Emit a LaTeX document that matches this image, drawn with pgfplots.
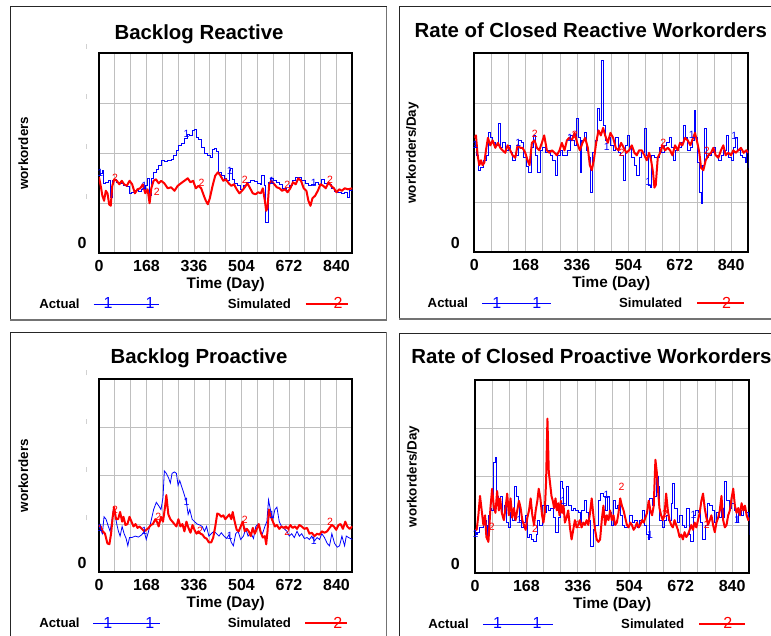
\documentclass[border=0pt]{standalone}
\usepackage{fontspec}
\setmainfont{Liberation Sans}
\usepackage{pgfplots}
\pgfplotsset{compat=1.18}
\newcommand{\mk}{\textcolor{black!18}{\rule{0.8pt}{5pt}}}
\pgfplotsset{
 vbase/.style={
  scale only axis,
  xmin=0, xmax=896, ymin=0, ymax=4,
  xtick={0,168,336,504,672,840},
  xticklabels={0,168,336,504,672,840},
  minor xtick={56,112,224,280,392,448,560,616,728,784},
  ytick={0,1,2,3,4},
  xmajorgrids, xminorgrids, ymajorgrids,
  major grid style={black!25, line width=0.8pt},
  minor grid style={black!25, line width=0.8pt},
  major tick length=0pt, minor tick length=0pt,
  tick style={draw=none},
  axis line style={line width=1.8pt},
  ticklabel style={font=\fontsize{16}{19}\selectfont\bfseries},
  xticklabel style={anchor=north, inner sep=0pt, yshift=-7pt},
  yticklabel style={anchor=base east, inner sep=0pt},
  xlabel={Time (Day)},
  xlabel style={at={(axis description cs:0.5,0)}, anchor=base, yshift=-35pt, inner sep=0pt, font=\fontsize{15.3}{18}\selectfont\bfseries},
  ylabel style={anchor=center, inner sep=0pt, font=\fontsize{13.4}{16}\selectfont\bfseries},
  title style={anchor=base, inner sep=0pt, font=\fontsize{20.4}{24}\selectfont\bfseries},
  legend columns=2,
  legend plot pos=right,
  legend cell align=left,
  legend style={draw=none, fill=none, inner sep=0pt, outer sep=0pt, anchor=west,
     font=\fontsize{13.2}{15}\selectfont\bfseries, nodes={inner sep=0pt}},
 },
 act/.style={blue, line width=0.8pt, const plot},
 actl/.style={blue, line width=0.8pt},
 sim/.style={red, line width=2pt, line join=round},
 m1/.style={forget plot, only marks, mark=text, text mark={1}, text mark as node=true, color=blue, text mark style={font=\fontsize{10.5}{10.5}\selectfont}},
 m2/.style={forget plot, only marks, mark=text, text mark={2}, text mark as node=true, color=red, text mark style={font=\fontsize{10.5}{10.5}\selectfont}},
}
\newcommand{\legact}[3]{\draw[blue,line width=0.8pt] (0pt,0pt)--(#1pt,0pt);
 \node[blue,inner sep=0pt,font=\fontsize{16}{16}\selectfont\mdseries] at (#2pt,0pt){1};
 \node[blue,inner sep=0pt,font=\fontsize{16}{16}\selectfont\mdseries] at (#3pt,0pt){1};}
\newcommand{\legsim}[2]{\draw[red,line width=2pt] (0pt,0pt)--(#1pt,0pt);
 \node[red,inner sep=0pt,font=\fontsize{16}{16}\selectfont\mdseries] at (#2pt,0pt){2};}
\begin{document}
\begin{tikzpicture}[x=1pt,y=1pt]
\useasboundingbox (0,0) rectangle (771,636);
\clip (0,0) rectangle (771,636);
\fill[white] (0,0) rectangle (771,636);
% panel frames
\draw[black!85, line width=1pt] (10,316) -- (10,629) -- (386.7,629);
\draw[black!55, line width=1.4pt] (386.7,629) -- (386.7,316) -- (10,316);
\draw[black!85, line width=1pt] (399,317) -- (399,629.3) -- (790,629.3);
\draw[black!55, line width=1.4pt] (399,317) -- (790,317);
\draw[black!85, line width=1pt] (10,-20) -- (10,303.7) -- (386.7,303.7);
\draw[black!55, line width=1.4pt] (386.7,303.7) -- (386.7,-20);
\draw[black!85, line width=1pt] (399.7,-20) -- (399.7,302.7) -- (790,302.7);

% ---------------- Backlog Reactive ----------------
\begin{axis}[vbase, at={(99pt,382.7pt)}, anchor=south west, width=253.3pt, height=200pt,
 title={Backlog Reactive}, title style={at={(axis description cs:0.3948,1)}, yshift=8pt},
 ylabel={workorders}, ylabel style={at={(axis description cs:-0.299,0.5)}},
 yticklabels={0,\mk,\mk,\mk,\mk}, yticklabel style={xshift=-12.3pt, yshift=4.3pt},
 legend style={at={(axis description cs:-0.2357,-0.2535)},
   /tikz/every odd column/.style={column sep=13.7pt},
   /tikz/every even column/.style={column sep=68.7pt}}]
\addplot[act, legend image code/.code={\legact{65}{10}{52}}] coordinates {
(0,1.56)(5.9,1.60)(10.7,1.65)(15.4,1.39)(21.3,1.42)(33.2,1.45)(41.5,1.12)(46.2,1.45)(53.3,1.48)(62.8,1.42)(74.7,1.40)(86.5,1.36)(98.4,1.33)(107.9,1.19)(116.1,1.22)(128,1.26)(139.9,1.24)(151.7,1.28)(163.6,1.35)(171.9,1.50)(179,1.15)(184.9,1.50)(193.2,1.62)(201.5,1.68)(211,1.75)(220.4,1.85)(231.1,1.83)(243,1.86)(254.8,1.87)(264.3,1.96)(273.8,2.05)(282.1,2.15)(291.6,2.20)(302.2,2.30)(311.7,2.38)(321.2,2.35)(329.5,2.45)(337.8,2.48)(344.9,2.32)(353.2,2.28)(362.7,2.12)(373.3,2.00)(382.8,1.95)(392.3,1.92)(401.8,2.07)(408.9,2.10)(416,2.03)(423.1,1.62)(432.6,1.55)(442.1,1.50)(451.5,1.45)(459.8,1.65)(465.8,1.70)(471.7,1.48)(480,1.40)(489.5,1.35)(499,1.28)(510.8,1.35)(522.7,1.42)(536.9,1.45)(548.7,1.44)(560.6,1.40)(570,1.38)(576,1.55)(584.3,1.35)(590.2,0.62)(596.1,0.62)(600.9,1.42)(608,1.50)(617.5,1.45)(627,1.42)(637.6,1.38)(649.5,1.30)(661.3,1.26)(673.2,1.35)(685,1.45)(694.5,1.52)(705.2,1.52)(717,1.45)(728.9,1.40)(740.7,1.36)(752.6,1.38)(764.4,1.42)(776.3,1.38)(788.2,1.48)(797.6,1.40)(809.5,1.38)(821.3,1.30)(833.2,1.24)(845,1.22)(856.9,1.20)(868.7,1.22)(878.2,1.12)(886.5,1.25)(896,1.28)};
\addlegendentry{Actual}
\addplot[sim, legend image code/.code={\legsim{42}{28}}] coordinates {
(0,1.52)(6,1.35)(12,1.15)(18,1.05)(24,1.25)(30,1.20)(36,0.98)(41.5,0.95)(47,1.35)(54.5,1.48)(63,1.45)(72,1.38)(80.6,1.45)(89,1.38)(98.4,1.35)(108,1.45)(117.3,1.38)(127,1.20)(136,1.28)(145.8,1.30)(155,1.38)(163.6,1.20)(172,1.28)(179,1.00)(185,1.30)(193,1.45)(201.5,1.48)(211,1.40)(220,1.45)(231,1.40)(243,1.30)(255,1.32)(267,1.25)(278.5,1.35)(290,1.40)(302,1.45)(314,1.50)(323.6,1.42)(333,1.45)(342.5,1.30)(352,1.35)(361.5,1.30)(371,1.15)(378,1.05)(385,0.98)(392,1.10)(401.8,1.35)(411,1.55)(420.7,1.62)(430,1.55)(439.7,1.45)(449,1.48)(458.7,1.40)(468,1.35)(477.6,1.38)(487,1.28)(496.6,1.20)(506,1.25)(515.6,1.32)(525,1.40)(534.5,1.30)(544,1.20)(553.5,1.18)(563,1.22)(572.4,1.20)(579.6,1.30)(586.7,1.05)(591.4,0.85)(596,0.90)(602,1.38)(610,1.45)(620,1.38)(629,1.32)(638.8,1.30)(648,1.25)(658,1.28)(667,1.22)(676.8,1.30)(686,1.42)(695.7,1.38)(705,1.50)(714.7,1.45)(724,1.30)(733.6,1.25)(740.7,1.05)(748,0.95)(755,1.10)(764.4,1.15)(774,1.25)(783.4,1.38)(793,1.35)(802,1.30)(812,1.42)(821,1.35)(831,1.30)(840,1.22)(850,1.28)(859,1.25)(869,1.30)(880.6,1.28)(896,1.30)};
\addlegendentry{Simulated}
\addplot[m1] coordinates {(5,1.6)(160,1.35)(310,2.38)(463,1.65)(611,1.45)(760,1.4)};
\addplot[m2] coordinates {(57,1.51)(204,1.22)(363,1.4)(516,1.47)(666,1.37)(817,1.47)};
\end{axis}

% ---------------- Rate of Closed Reactive ----------------
\begin{axis}[vbase, at={(474.3pt,383.7pt)}, anchor=south west, width=274pt, height=199pt,
 title={Rate of Closed Reactive Workorders}, title style={at={(axis description cs:0.4252,1)}, yshift=10pt},
 ylabel={workorders/Day}, ylabel style={at={(axis description cs:-0.2255,0.5)}},
 yticklabels={0,,,,}, yticklabel style={xshift=-14.3pt, yshift=4pt},
 legend style={at={(axis description cs:-0.170,-0.2563)},
   /tikz/every odd column/.style={column sep=14pt},
   /tikz/every even column/.style={column sep=67.3pt}}]
\addplot[act, legend image code/.code={\legact{69}{10}{50}}] coordinates {
(0,2.15)(5.4,1.95)(14.2,1.65)(19.6,1.70)(30.5,1.85)(38.1,1.95)(44.6,2.40)(52.3,2.30)(59.9,2.20)(68.6,2.15)(77.3,2.60)(84.9,2.10)(92.5,2.20)(101.2,2.05)(110,2.15)(117.6,2.00)(125.2,1.85)(133.9,1.95)(144.8,2.25)(152.4,2.20)(161.1,1.90)(169.8,1.72)(177.5,1.60)(186.2,2.10)(193.8,2.35)(201.4,1.95)(207.9,1.60)(215.6,2.05)(223.2,2.10)(231.9,2.00)(240.6,2.05)(248.2,1.95)(255.8,1.85)(264.6,1.55)(273.3,1.95)(280.9,2.05)(288.5,1.95)(297.2,1.95)(305.9,2.05)(313.5,2.35)(321.2,2.25)(327.7,2.15)(335.3,2.70)(340.8,2.30)(346.2,1.60)(351.7,2.25)(359.3,2.40)(365.8,2.05)(373.4,1.90)(380,1.20)(386.5,2.00)(395.2,2.25)(403.9,2.90)(410.4,2.65)(417,3.85)(423.5,2.55)(430,2.25)(438.7,2.30)(446.4,2.15)(455.1,2.05)(462.7,2.30)(471.4,2.00)(479,1.95)(486.6,1.45)(493.2,2.15)(500.8,2.35)(507.3,2.10)(515,1.90)(523.7,1.75)(531.3,1.55)(538.9,1.90)(547.6,2.00)(556.3,2.50)(563.9,1.95)(569.4,1.35)(574.8,1.30)(580.3,1.95)(587.9,1.90)(596.6,1.90)(604.2,2.10)(612.9,2.00)(621.6,2.15)(629.3,2.20)(636.9,2.30)(643.4,2.10)(651,1.85)(658.7,2.05)(667.4,2.10)(676.1,2.20)(683.7,2.55)(691.3,2.30)(697.9,2.05)(705.5,2.10)(713.1,2.25)(718.5,2.85)(724,2.30)(730.5,1.80)(736,1.20)(741.4,0.98)(746.8,1.75)(752.3,2.50)(758.8,1.90)(765.4,1.95)(774.1,2.00)(781.7,2.10)(789.3,1.95)(798,1.85)(806.7,1.95)(814.3,2.05)(823.1,2.35)(830.7,1.90)(839.4,1.85)(847,2.10)(854.6,2.30)(861.2,2.05)(868.8,1.95)(876.4,1.90)(885.1,1.80)(890.6,2.05)(896,1.70)};
\addlegendentry{Actual}
\addplot[sim, legend image code/.code={\legsim{46.6}{25}}] coordinates {
(0,2.30)(5.4,2.35)(10.9,1.95)(16.3,1.75)(21.8,1.85)(27.2,1.75)(32.7,1.80)(38.1,2.05)(44.6,2.30)(52.3,2.15)(59.9,2.25)(68.6,2.10)(77.3,2.20)(84.9,2.10)(92.5,2.05)(101.2,2.00)(108.9,2.15)(117.6,2.05)(125.2,1.95)(133.9,1.90)(141.5,2.15)(150.2,2.10)(157.9,2.10)(166.6,2.00)(174.2,1.85)(180.7,1.75)(188.3,2.20)(197.1,2.25)(204.7,2.10)(212.3,2.05)(221,2.20)(228.6,2.35)(237.3,2.05)(245,2.00)(253.7,2.05)(262.4,2.00)(270,1.95)(278.7,2.05)(286.3,2.20)(295,2.05)(302.7,2.25)(310.3,2.30)(319,2.25)(327.7,2.40)(336.4,2.20)(345.1,2.05)(353.8,2.20)(362.5,2.30)(371.2,2.10)(377.8,1.75)(384.3,1.65)(390.8,1.85)(398.5,2.20)(406.1,2.45)(413.7,2.35)(421.3,2.50)(427.9,2.35)(436.6,2.20)(445.3,2.40)(454,2.30)(462.7,2.10)(471.4,2.05)(480.1,2.20)(488.8,2.10)(497.5,2.00)(506.2,2.05)(515,2.15)(523.7,2.00)(531.3,1.95)(538.9,2.05)(547.6,2.05)(556.3,1.95)(563.9,1.85)(571.6,2.00)(578.1,1.85)(584.6,1.60)(589,1.30)(593.3,1.35)(599.9,1.90)(607.5,2.00)(615.1,2.15)(623.8,2.05)(632.5,2.10)(640.2,2.05)(647.8,1.95)(656.5,2.15)(665.2,2.05)(672.8,2.20)(680.4,2.15)(689.1,2.30)(697.9,2.25)(706.6,2.15)(715.3,2.30)(721.8,2.40)(729.4,2.20)(736,2.00)(741.4,1.70)(749,1.65)(756.7,1.85)(765.4,1.95)(774.1,2.00)(781.7,2.10)(789.3,1.95)(798,1.90)(806.7,2.05)(814.3,2.15)(822,1.95)(830.7,2.00)(839.4,1.95)(847,2.05)(854.6,2.00)(863.3,2.05)(872,2.10)(880.7,2.00)(889.5,2.05)(896,2.00)};
\addlegendentry{Simulated}
\addplot[m1] coordinates {(3,2.15)(144,2.2)(313,2.3)(433,2.12)(569,1.42)(711,2.35)(850,2.34)};
\addplot[m2] coordinates {(198,2.39)(329,2.36)(482,1.99)(618,2.2)(760,2.04)};
\end{axis}

% ---------------- Backlog Proactive ----------------
\begin{axis}[vbase, at={(99pt,63.7pt)}, anchor=south west, width=253.3pt, height=193pt,
 title={Backlog Proactive}, title style={at={(axis description cs:0.3948,1)}, yshift=10pt},
 ylabel={workorders}, ylabel style={at={(axis description cs:-0.299,0.5)}},
 yticklabels={0,\mk,\mk,\mk,\mk}, yticklabel style={xshift=-12.3pt, yshift=4pt},
 legend style={at={(axis description cs:-0.2357,-0.2642)},
   /tikz/every odd column/.style={column sep=13.4pt},
   /tikz/every even column/.style={column sep=67.7pt}}]
\addplot[actl, legend image code/.code={\legact{66.3}{10}{52}}] coordinates {
(0,0.95)(5.9,0.88)(11.9,0.80)(17.8,1.15)(24.9,1.10)(33.2,0.95)(39.1,0.85)(45,1.05)(51,1.30)(56.9,1.20)(62.8,1.00)(68.7,0.85)(74.7,0.75)(81.8,0.95)(88.9,0.80)(96,0.70)(101.9,0.55)(107.9,0.72)(116.1,0.72)(128,0.75)(139.9,0.73)(151.7,0.78)(160,0.85)(167.1,0.68)(175.4,0.85)(183.7,1.05)(193.2,1.30)(202.7,1.45)(211,1.38)(219.3,1.30)(226.4,1.55)(231.1,2.10)(238.2,2.05)(246.5,1.95)(252.4,1.85)(258.4,2.05)(266.7,2.08)(273.8,2.05)(279.7,1.80)(285.6,1.90)(293.9,1.75)(302.2,1.60)(309.3,1.45)(315.3,1.20)(321.2,1.30)(329.5,1.10)(337.8,1.05)(347.3,1.00)(356.7,0.98)(365,0.95)(373.3,0.85)(380.4,0.95)(388.7,0.75)(397,0.80)(406.5,0.85)(416,0.80)(424.3,0.75)(432.6,0.82)(442.1,0.75)(451.5,0.70)(459.8,0.78)(468.1,0.62)(475.3,0.55)(483.6,0.80)(491.9,0.85)(501.3,0.68)(510.8,0.75)(519.1,0.90)(527.4,0.75)(536.9,0.82)(546.4,0.70)(554.7,0.95)(563,1.00)(570,0.85)(578.4,0.80)(586.7,0.95)(593.8,1.05)(599.7,1.50)(608,1.25)(615.1,1.10)(622.2,1.30)(629.3,1.35)(637.6,1.05)(645.9,0.95)(655.4,0.90)(664.9,0.85)(673.2,0.75)(681.5,0.80)(690.9,0.72)(700.4,0.85)(708.7,0.75)(717,0.80)(726.5,0.70)(736,0.72)(744.3,0.68)(752.6,0.75)(762.1,0.65)(771.6,0.72)(779.9,0.68)(788.2,0.80)(797.6,0.72)(807.1,0.60)(815.4,0.55)(823.7,0.80)(833.2,0.60)(842.7,0.52)(851,0.55)(859.3,0.75)(868.7,0.55)(874.7,0.75)(883,0.72)(896,0.68)};
\addlegendentry{Actual}
\addplot[sim, legend image code/.code={\legsim{41.7}{28}}] coordinates {
(0,0.97)(5.9,0.95)(13,0.85)(21.3,0.80)(29.6,0.60)(36.7,0.58)(42.7,0.80)(48.6,1.15)(53.3,1.35)(60.4,1.10)(67.6,1.10)(74.7,1.25)(81.8,1.05)(86.5,1.15)(93.6,0.98)(100.7,1.00)(107.9,1.15)(115,1.05)(122.1,0.95)(129.2,1.00)(136.3,0.92)(143.4,0.95)(151.7,0.90)(160,0.85)(167.1,0.88)(175.4,0.92)(183.7,0.98)(190.8,1.00)(199.1,1.10)(205,1.05)(211,0.95)(219.3,1.15)(226.4,1.05)(233.5,1.35)(238.2,1.60)(245.3,1.20)(252.4,1.10)(259.6,1.05)(266.7,1.00)(273.8,0.95)(280.9,1.10)(288,0.95)(295.1,1.00)(302.2,0.85)(309.3,1.05)(316.4,0.92)(323.6,0.82)(330.7,0.98)(337.8,0.88)(344.9,0.80)(352,0.85)(359.1,0.80)(366.2,0.78)(373.3,0.72)(380.4,0.70)(388.7,0.62)(397,0.62)(404.1,0.72)(411.3,0.95)(418.4,1.22)(425.5,1.20)(432.6,1.15)(439.7,1.18)(446.8,1.10)(453.9,1.15)(461,1.20)(468.1,1.10)(472.9,1.25)(480,1.05)(487.1,0.88)(494.2,0.85)(501.3,0.95)(508.4,1.05)(515.6,0.85)(522.7,0.90)(529.8,0.85)(536.9,0.75)(544,0.92)(551.1,0.80)(558.2,0.90)(565.3,1.00)(572.4,0.82)(579.6,0.72)(586.7,0.75)(591.4,0.58)(596.1,0.85)(600.9,1.30)(608,1.15)(615.1,1.05)(622.2,0.95)(629.3,0.98)(637.6,0.90)(645.9,0.95)(653,0.92)(661.3,0.95)(669.6,0.90)(676.7,0.98)(685,0.92)(693.3,0.95)(700.4,0.90)(708.7,0.98)(717,0.95)(726.5,0.90)(736,0.92)(744.3,0.80)(752.6,0.82)(762.1,0.75)(771.6,0.80)(779.9,0.78)(788.2,0.85)(797.6,0.82)(807.1,0.85)(815.4,0.92)(823.7,0.98)(830.8,0.95)(839.1,0.88)(847.4,0.98)(854.5,1.00)(862.8,0.90)(871.1,1.05)(878.2,0.95)(886.5,0.90)(896,0.95)};
\addlegendentry{Simulated}
\addplot[m1] coordinates {(5,0.93)(160,0.86)(310,1.45)(463,0.76)(611,1.2)(760,0.66)};
\addplot[m2] coordinates {(57,1.29)(210,1.15)(357,0.86)(516,1.08)(666,0.84)(817,1.05)};
\end{axis}

% ---------------- Rate of Closed Proactive ----------------
\begin{axis}[vbase, at={(475pt,62.7pt)}, anchor=south west, width=274.3pt, height=193.3pt,
 title={Rate of Closed Proactive Workorders}, title style={at={(axis description cs:0.4247,1)}, yshift=10.7pt},
 ylabel={workorders/Day}, ylabel style={at={(axis description cs:-0.225,0.5)}},
 yticklabels={0,,,,}, yticklabel style={xshift=-15pt, yshift=4pt},
 legend style={at={(axis description cs:-0.170,-0.2623)},
   /tikz/every odd column/.style={column sep=14pt},
   /tikz/every even column/.style={column sep=68.3pt}}]
\addplot[act, legend image code/.code={\legact{69.4}{10}{49.4}}] coordinates {
(0,0.85)(4.4,0.80)(8.8,0.85)(14.2,0.95)(21.9,0.95)(28.5,1.10)(36.1,1.00)(41.6,0.75)(44.9,1.20)(50.4,1.35)(54.8,1.30)(60.2,2.30)(65.7,2.40)(71.2,1.60)(76.7,1.40)(83.3,1.60)(89.8,1.20)(96.4,1.40)(103,1.05)(109.5,0.95)(116.1,1.25)(121.6,1.10)(127.1,1.80)(134.7,1.60)(140.2,1.45)(145.7,1.10)(151.2,0.95)(156.6,1.05)(164.3,1.20)(169.8,0.75)(176.4,0.80)(184,0.70)(191.7,0.65)(199.4,0.80)(203.7,1.10)(211.4,1.00)(219.1,1.40)(225.7,1.25)(233.3,1.40)(241,1.30)(247.6,1.35)(255.2,1.15)(262.9,0.85)(271.7,1.15)(279.3,1.90)(284.8,1.75)(290.3,1.40)(299,1.80)(304.5,1.40)(313.3,1.30)(320.9,1.35)(328.6,1.30)(337.4,1.25)(342.9,1.05)(348.3,1.30)(356,1.50)(363.7,1.25)(370.2,1.10)(377.9,0.55)(386.7,0.90)(394.3,1.00)(403.1,1.50)(410.8,1.65)(418.4,1.60)(425,1.30)(432.7,1.60)(439.3,1.25)(446.9,1.00)(453.5,1.50)(460.1,1.35)(466.6,1.40)(474.3,1.20)(482,1.00)(488.5,0.95)(496.2,1.00)(503.9,1.20)(512.6,1.05)(520.3,1.10)(529.1,0.95)(536.7,1.10)(545.5,1.30)(553.2,1.00)(559.7,0.80)(565.2,0.70)(570.7,1.55)(578.4,1.40)(586,1.60)(591.5,2.00)(598.1,1.80)(603.6,1.10)(611.2,0.95)(618.9,1.10)(626.6,1.20)(633.1,1.10)(640.8,1.45)(646.3,1.85)(652.9,1.35)(660.5,1.05)(668.2,1.20)(677,1.00)(684.6,0.95)(691.2,1.35)(698.9,0.80)(704.3,0.65)(712,1.20)(720.8,1.30)(728.4,1.25)(736.1,1.05)(742.7,0.70)(751.4,1.00)(759.1,1.45)(766.8,1.40)(775.5,1.30)(782.1,1.05)(788.7,1.25)(797.5,1.15)(805.1,1.35)(810.6,1.15)(816.1,1.90)(821.6,1.50)(830.3,1.35)(838,1.45)(846.8,1.30)(854.4,1.05)(861,1.30)(868.7,1.20)(876.3,1.30)(885.1,1.25)(891.6,1.15)(896,0.80)};
\addlegendentry{Actual}
\addplot[sim, legend image code/.code={\legsim{45.7}{24}}] coordinates {
(0,0.90)(5.5,0.90)(11,1.20)(16.4,1.60)(21.9,1.30)(27.4,1.00)(32.9,1.20)(37.2,0.75)(43.8,0.65)(50.4,1.35)(55.9,1.75)(61.3,1.40)(66.8,1.25)(72.3,1.70)(77.8,1.30)(82.2,1.55)(87.6,1.25)(94.2,1.10)(99.7,1.35)(105.2,1.65)(110.6,1.20)(116.1,1.55)(121.6,1.15)(127.1,1.35)(132.5,1.10)(138,1.30)(143.5,1.50)(149,1.35)(154.5,1.10)(159.9,1.00)(165.4,0.90)(170.9,1.15)(176.4,1.30)(181.8,1.55)(187.3,1.20)(192.8,1.00)(198.3,1.30)(203.7,1.50)(208.1,1.75)(213.6,1.55)(219.1,1.20)(223.5,1.05)(227.8,1.25)(232.2,1.90)(236.6,3.20)(241,2.10)(245.4,1.85)(249.8,1.60)(254.1,1.50)(258.5,1.35)(262.9,1.55)(267.3,1.30)(271.7,1.45)(276,1.20)(280.4,1.50)(284.8,1.25)(289.2,1.40)(293.6,1.05)(299,1.15)(304.5,1.30)(310,0.95)(315.5,0.70)(320.9,0.90)(326.4,1.10)(331.9,0.95)(337.4,1.00)(342.9,1.10)(348.3,0.95)(353.8,1.05)(359.3,1.00)(364.8,1.10)(370.2,1.00)(375.7,1.25)(381.2,1.55)(386.7,1.20)(392.2,0.90)(397.6,0.70)(403.1,0.65)(408.6,0.70)(414.1,1.10)(419.5,1.40)(425,1.00)(430.5,1.20)(436,1.10)(441.4,1.30)(446.9,1.10)(452.4,1.20)(457.9,1.00)(463.4,1.05)(468.8,1.25)(474.3,1.55)(479.8,1.40)(485.3,1.30)(490.7,1.15)(496.2,1.00)(501.7,0.95)(507.2,1.05)(512.6,1.00)(518.1,0.90)(523.6,0.95)(529.1,1.05)(534.6,0.95)(540,1.00)(545.5,1.10)(551,1.05)(556.5,1.15)(561.9,1.25)(567.4,1.50)(572.9,1.30)(578.4,1.20)(583.8,1.40)(589.3,2.35)(593.7,2.10)(598.1,1.70)(602.5,1.35)(608,1.20)(613.4,1.10)(618.9,1.20)(624.4,1.65)(629.9,1.30)(635.3,1.10)(640.8,1.00)(646.3,0.95)(651.8,1.10)(657.2,1.00)(662.7,0.90)(668.2,0.75)(673.7,0.80)(679.1,0.70)(684.6,0.85)(690.1,0.75)(695.6,0.80)(701.1,0.90)(706.5,1.00)(712,0.90)(717.5,1.05)(723,0.95)(728.4,1.10)(733.9,1.25)(739.4,1.50)(744.9,1.65)(750.3,1.35)(755.8,1.15)(761.3,1.00)(766.8,1.10)(772.2,1.20)(777.7,1.00)(783.2,0.85)(788.7,1.05)(794.2,1.15)(799.6,1.30)(805.1,1.60)(810.6,1.10)(816.1,0.95)(821.6,1.00)(827,1.20)(832.5,1.30)(838,1.55)(843.5,1.75)(848.9,1.40)(854.4,1.25)(859.9,1.35)(865.4,1.20)(870.8,1.45)(876.3,1.30)(881.8,1.40)(887.3,1.20)(892.7,1.10)(896,1.15)};
\addlegendentry{Simulated}
\addplot[m1] coordinates {(2,0.82)(145,1.1)(288,1.5)(430,1.62)(572,0.79)(714,1.2)(856,1.1)};
\addplot[m2] coordinates {(54.5,0.96)(196,0.93)(337,1.0)(479,1.79)(621,1.24)(757,1.0)};
\end{axis}
\end{tikzpicture}
\end{document}
